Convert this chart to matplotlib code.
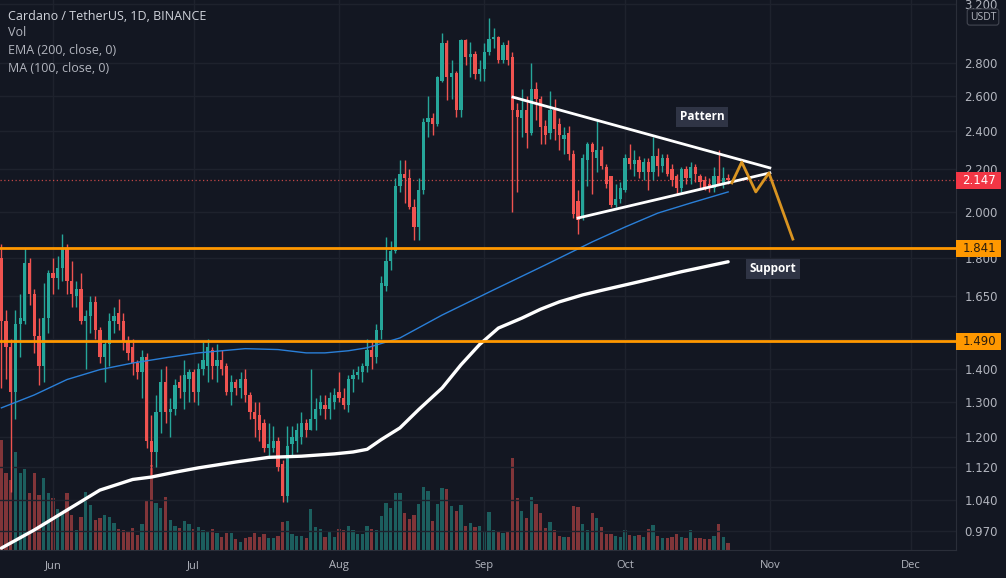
import matplotlib
matplotlib.use('Agg')
import matplotlib.pyplot as plt
import matplotlib.transforms as mtransforms
from matplotlib.patches import Rectangle
from matplotlib.ticker import FixedLocator, NullLocator, FuncFormatter
import numpy as np
import pandas as pd

plt.rcParams['font.family'] = ['Open Sans', 'DejaVu Sans']

# ---------------- data (ADA/USDT daily) ----------------
start_date = '2021-05-21'

opens = [1.80, 1.56, 1.47, 1.33, 1.55, 1.56, 1.78, 1.66, 1.51, 1.41,
         1.57, 1.74, 1.72, 1.76, 1.84, 1.71, 1.65, 1.68, 1.56, 1.58,
         1.63, 1.53, 1.44, 1.48, 1.56, 1.59, 1.56, 1.49, 1.47, 1.42,
         1.39, 1.44, 1.19, 1.16, 1.27, 1.36, 1.27, 1.28, 1.36, 1.33,
         1.37, 1.39, 1.33, 1.40, 1.41, 1.46, 1.41, 1.43, 1.41, 1.33,
         1.36, 1.34, 1.37, 1.32, 1.27, 1.26, 1.24, 1.17, 1.17, 1.19,
         1.13, 1.05, 1.18, 1.19, 1.20, 1.24, 1.22, 1.25, 1.28, 1.29,
         1.28, 1.30, 1.33, 1.31, 1.29, 1.37, 1.38, 1.39, 1.41, 1.46,
         1.44, 1.53, 1.69, 1.79, 1.83, 2.12, 2.18, 2.16, 2.02, 1.93,
         2.10, 2.45, 2.47, 2.44, 2.69, 2.93, 2.71, 2.74, 2.52, 2.95,
         2.84, 2.86, 2.73, 2.76, 2.87, 2.96, 2.97, 2.82, 2.92, 2.84,
         2.52, 2.47, 2.52, 2.39, 2.64, 2.58, 2.43, 2.39, 2.52, 2.44,
         2.36, 2.39, 2.28, 2.05, 1.97, 2.25, 2.33, 2.26, 2.30, 2.21,
         2.17, 2.03, 2.06, 2.10, 2.26, 2.23, 2.25, 2.19, 2.24, 2.19,
         2.27, 2.22, 2.26, 2.20, 2.17, 2.11, 2.20, 2.16, 2.21, 2.17,
         2.15, 2.13, 2.11, 2.17, 2.13, 2.16]

highs = [1.86, 1.60, 1.50, 1.60, 1.66, 1.84, 1.80, 1.68, 1.57, 1.70,
         1.75, 1.80, 1.81, 1.90, 1.86, 1.79, 1.71, 1.74, 1.60, 1.65,
         1.65, 1.54, 1.49, 1.59, 1.61, 1.64, 1.59, 1.51, 1.50, 1.43,
         1.46, 1.45, 1.26, 1.32, 1.40, 1.41, 1.31, 1.37, 1.38, 1.43,
         1.40, 1.40, 1.42, 1.49, 1.50, 1.47, 1.48, 1.46, 1.42, 1.38,
         1.37, 1.39, 1.40, 1.33, 1.30, 1.30, 1.25, 1.24, 1.23, 1.20,
         1.14, 1.23, 1.23, 1.24, 1.27, 1.25, 1.40, 1.31, 1.32, 1.32,
         1.33, 1.34, 1.39, 1.34, 1.38, 1.40, 1.41, 1.42, 1.50, 1.49,
         1.55, 1.73, 1.89, 1.87, 2.16, 2.25, 2.25, 2.20, 2.06, 2.16,
         2.47, 2.60, 2.50, 2.72, 3.00, 2.95, 2.82, 2.75, 2.96, 2.96,
         2.94, 2.88, 2.82, 2.93, 3.10, 3.03, 2.98, 2.94, 2.95, 2.87,
         2.56, 2.64, 2.60, 2.80, 2.68, 2.60, 2.46, 2.63, 2.58, 2.47,
         2.42, 2.43, 2.30, 2.10, 2.28, 2.34, 2.34, 2.46, 2.32, 2.23,
         2.17, 2.13, 2.14, 2.28, 2.33, 2.30, 2.27, 2.26, 2.26, 2.37,
         2.31, 2.28, 2.28, 2.23, 2.18, 2.21, 2.22, 2.24, 2.23, 2.18,
         2.17, 2.16, 2.21, 2.30, 2.21, 2.18]

lows = [1.34, 1.37, 1.06, 1.25, 1.44, 1.55, 1.62, 1.45, 1.35, 1.36,
        1.52, 1.66, 1.68, 1.71, 1.66, 1.61, 1.61, 1.55, 1.40, 1.52,
        1.50, 1.42, 1.36, 1.41, 1.52, 1.53, 1.46, 1.43, 1.38, 1.37,
        1.31, 1.17, 1.10, 1.12, 1.21, 1.24, 1.20, 1.26, 1.31, 1.28,
        1.30, 1.30, 1.29, 1.38, 1.36, 1.37, 1.36, 1.38, 1.32, 1.29,
        1.32, 1.31, 1.30, 1.25, 1.20, 1.19, 1.16, 1.15, 1.16, 1.11,
        1.035, 1.035, 1.15, 1.16, 1.18, 1.20, 1.22, 1.22, 1.26, 1.25,
        1.25, 1.28, 1.30, 1.28, 1.27, 1.33, 1.37, 1.36, 1.39, 1.40,
        1.42, 1.50, 1.67, 1.75, 1.82, 2.09, 2.04, 2.01, 1.875, 1.875,
        2.08, 2.37, 2.38, 2.43, 2.68, 2.575, 2.58, 2.48, 2.48, 2.79,
        2.71, 2.70, 2.69, 2.69, 2.85, 2.90, 2.80, 2.80, 2.79, 2.00,
        2.09, 2.37, 2.31, 2.38, 2.46, 2.33, 2.33, 2.36, 2.35, 2.30,
        2.28, 2.25, 1.97, 1.90, 1.96, 2.12, 2.08, 2.19, 2.20, 2.11,
        2.02, 2.02, 2.04, 2.09, 2.20, 2.17, 2.16, 2.15, 2.10, 2.15,
        2.17, 2.19, 2.17, 2.12, 2.08, 2.09, 2.13, 2.13, 2.14, 2.11,
        2.10, 2.09, 2.09, 2.13, 2.11, 2.13]

closes = [1.56, 1.47, 1.33, 1.55, 1.57, 1.78, 1.66, 1.51, 1.41, 1.57,
          1.74, 1.72, 1.76, 1.84, 1.71, 1.66, 1.68, 1.56, 1.58, 1.63,
          1.53, 1.44, 1.48, 1.56, 1.58, 1.55, 1.49, 1.45, 1.42, 1.39,
          1.44, 1.19, 1.16, 1.27, 1.36, 1.27, 1.28, 1.35, 1.34, 1.38,
          1.39, 1.33, 1.40, 1.43, 1.47, 1.41, 1.43, 1.40, 1.33, 1.36,
          1.34, 1.37, 1.32, 1.27, 1.25, 1.22, 1.17, 1.18, 1.19, 1.12,
          1.05, 1.175, 1.20, 1.22, 1.24, 1.22, 1.25, 1.28, 1.30, 1.28,
          1.31, 1.32, 1.31, 1.29, 1.37, 1.38, 1.39, 1.41, 1.46, 1.44,
          1.53, 1.70, 1.79, 1.83, 2.12, 2.18, 2.16, 2.02, 1.93, 2.10,
          2.45, 2.47, 2.44, 2.71, 2.93, 2.71, 2.74, 2.52, 2.95, 2.84,
          2.86, 2.73, 2.76, 2.87, 2.96, 2.97, 2.82, 2.92, 2.82, 2.52,
          2.48, 2.52, 2.39, 2.64, 2.58, 2.42, 2.38, 2.52, 2.41, 2.38,
          2.38, 2.28, 1.99, 1.96, 2.26, 2.33, 2.29, 2.30, 2.22, 2.13,
          2.03, 2.06, 2.11, 2.26, 2.23, 2.25, 2.19, 2.24, 2.19, 2.27,
          2.22, 2.26, 2.18, 2.15, 2.11, 2.20, 2.16, 2.21, 2.18, 2.14,
          2.11, 2.11, 2.17, 2.13, 2.16, 2.147]

volumes = [110, 77, 70, 98, 77, 81, 57, 77, 55, 72,
           57, 52, 41, 38, 57, 35, 20, 33, 58, 45,
           30, 32, 35, 33, 27, 21, 20, 18, 22, 15,
           26, 49, 85, 47, 42, 53, 30, 24, 22, 29,
           26, 21, 23, 20, 19, 21, 17, 13, 17, 17,
           11, 8, 12, 13, 17, 13, 16, 12, 12, 14,
           28, 29, 16, 14, 14, 12, 41, 23, 21, 13,
           18, 13, 21, 20, 24, 20, 16, 16, 24, 21,
           20, 34, 47, 42, 57, 57, 37, 31, 35, 46,
           63, 59, 29, 46, 62, 61, 44, 39, 45, 24,
           27, 23, 24, 19, 38, 20, 19, 17, 19, 92,
           52, 39, 32, 53, 46, 37, 22, 28, 20, 14,
           13, 13, 44, 43, 26, 20, 37, 32, 23, 16,
           16, 14, 13, 20, 15, 14, 15, 13, 21, 25,
           14, 12, 12, 13, 16, 13, 12, 20, 12, 12,
           11, 11, 14, 26, 13, 7]

# EMA 200 (white) and MA 100 (blue), read at sample days
ema_days = [0, 7, 14, 21, 28, 32, 37, 42, 50, 57, 64, 71, 75, 78, 81, 85,
            89, 94, 98, 102, 106, 111, 115, 119, 124, 128, 136, 145, 155]
ema_vals = [0.933, 0.972, 1.017, 1.064, 1.090, 1.096, 1.108, 1.119, 1.134,
            1.146, 1.149, 1.155, 1.160, 1.167, 1.193, 1.225, 1.277, 1.341,
            1.413, 1.480, 1.536, 1.571, 1.603, 1.630, 1.656, 1.673, 1.706,
            1.745, 1.785]
ma_days = [0, 7, 14, 21, 28, 35, 42, 52, 59, 65, 69, 74, 78, 85, 94, 105,
           116, 126, 133, 140, 147, 155]
ma_vals = [1.282, 1.320, 1.367, 1.398, 1.419, 1.436, 1.452, 1.466, 1.463,
           1.452, 1.452, 1.459, 1.469, 1.502, 1.582, 1.675, 1.772, 1.867,
           1.931, 1.993, 2.039, 2.091]

# drawn pattern (triangle) and projection
upper_days = [109.1, 163.9]
upper_vals = [2.592, 2.208]
lower_days = [123.0, 163.9]
lower_vals = [1.971, 2.183]
proj_days = [155.8, 157.9, 160.9, 163.7, 168.8]
proj_vals = [2.134, 2.237, 2.091, 2.183, 1.879]

level_vals = [1.841, 1.490]
last_price = 2.147

price_ticks = [0.970, 1.040, 1.120, 1.200, 1.300, 1.400, 1.500, 1.650,
               1.800, 2.000, 2.200, 2.400, 2.600, 2.800, 3.200]
hidden_tick_labels = [1.500]   # fully covered by the 1.490 label on the scale
month_labels = ['Jun', 'Jul', 'Aug', 'Sep', 'Oct', 'Nov', 'Dec']
month_dates = ['2021-06-01', '2021-07-01', '2021-08-01', '2021-09-01',
               '2021-10-01', '2021-11-01', '2021-12-01']

# ---------------- styling ----------------
BG = '#131722'
GRID = '#1e222d'
UP = '#26a69a'
DOWN = '#ef5350'
TXT = '#b2b5be'
NARROW = ['Liberation Sans Narrow', 'DejaVu Sans']

n = len(closes)
days = np.arange(n)
o = np.array(opens); h = np.array(highs); l = np.array(lows); c = np.array(closes)
up = c >= o
cols = np.where(up, UP, DOWN)

fig = plt.figure(figsize=(10.06, 5.78), dpi=100, facecolor=BG)
ax = fig.add_axes([0, 28 / 578, 956 / 1006, 550 / 578])
ax2 = ax.twinx()
ax2.set_zorder(1)
ax.set_zorder(2)
ax.patch.set_visible(False)
ax2.patch.set_facecolor(BG)

# volume
ax2.bar(days, volumes, width=0.7, color=np.where(up, UP, DOWN), alpha=0.5,
        linewidth=0)
ax2.set_ylim(0, 550)
ax2.set_yticks([])
for s in ax2.spines.values():
    s.set_visible(False)

# price axis
ax.set_yscale('log')
ax.set_ylim(0.929, 3.23)
ax.set_xlim(-0.3, 203.6)
ax.yaxis.tick_right()
ax.yaxis.set_major_locator(FixedLocator(price_ticks))
ax.yaxis.set_minor_locator(NullLocator())
ax.yaxis.set_major_formatter(FuncFormatter(
    lambda v, p: '' if any(abs(v - t) < 1e-9 for t in hidden_tick_labels)
    else f'{v:.3f}'))
ax.tick_params(axis='y', length=0, pad=6, labelsize=8.5, labelcolor=TXT)

start = pd.Timestamp(start_date)
month_pos = [(pd.Timestamp(d) - start).days for d in month_dates]
ax.set_xticks(month_pos)
ax.set_xticklabels(month_labels)
ax.tick_params(axis='x', length=0, pad=7, labelsize=8, labelcolor=TXT)
for lab in ax.get_yticklabels():
    lab.set_family(NARROW)

ax.grid(True, color=GRID, lw=1)
ax.set_axisbelow(True)
for k in ['top', 'left']:
    ax.spines[k].set_visible(False)
for k in ['right', 'bottom']:
    ax.spines[k].set_color('#2a2e39')

# candles
ax.vlines(days, l, h, colors=cols, lw=1, zorder=3)
body_lo = np.minimum(o, c)
body_hi = np.maximum(np.maximum(o, c), body_lo * 1.004)
ax.bar(days, body_hi - body_lo, bottom=body_lo, width=0.7, color=cols,
       linewidth=0, zorder=3.1)

# moving averages
ax.plot(ma_days, ma_vals, color='#2a7fd8', lw=1, zorder=3.2)
ax.plot(ema_days, ema_vals, color='white', lw=2.4, zorder=3.3,
        solid_capstyle='round', solid_joinstyle='round')

# horizontal levels
for v in level_vals:
    ax.axhline(v, color='#ff9800', lw=2, zorder=4)
ax.axhline(last_price, color=DOWN, lw=0.9, ls=(0, (1, 2)), alpha=0.8, zorder=2)

# pattern
ax.plot(upper_days, upper_vals, color='white', lw=2, zorder=5)
ax.plot(lower_days, lower_vals, color='white', lw=2, zorder=5)
ax.plot(proj_days, proj_vals, color='#d99421', lw=2, zorder=5)

ax.text(149.4, 2.478, 'Pattern', ha='center', va='center', color='white',
        fontsize=8.5, fontweight='bold', zorder=6,
        bbox=dict(boxstyle='square,pad=0.3', fc='#2f3445', ec='none'))
ax.text(164.6, 1.756, 'Support', ha='center', va='center', color='white',
        fontsize=8.5, fontweight='bold', zorder=6,
        bbox=dict(boxstyle='square,pad=0.3', fc='#2f3445', ec='none'))

# price labels on the scale
blend = mtransforms.blended_transform_factory(fig.transFigure, ax.transData)
half = np.exp(8.5 / 441.5)
for v, fc, tc in [(level_vals[0], '#ff9800', '#2b1d0e'),
                  (level_vals[1], '#ff9800', '#2b1d0e'),
                  (last_price, '#f23645', 'white')]:
    r = Rectangle((956 / 1006, v / half), 45 / 1006, v * half - v / half,
                  transform=blend, fc=fc, ec='none', clip_on=False, zorder=10)
    ax.add_patch(r)
    ax.text(979 / 1006, v, f'{v:.3f}', transform=blend, ha='center',
            va='center', color=tc, fontsize=8.5, clip_on=False, zorder=11,
            family=NARROW)

fig.text(983 / 1006, 1 - 17 / 578, 'USDT', ha='center', va='center',
         color=TXT, fontsize=7.5,
         bbox=dict(boxstyle='round,pad=0.25', fc=BG, ec='#434651', lw=0.8))

# header legend
legend_lines = ['Cardano / TetherUS, 1D, BINANCE', 'Vol',
                'EMA (200, close, 0)', 'MA (100, close, 0)']
for k, (txt, yy) in enumerate(zip(legend_lines, [16, 33, 51, 68])):
    fig.text(8 / 1006, 1 - yy / 578, txt, ha='left', va='center',
             color='#d1d4dc' if k == 0 else TXT, fontsize=9)

fig.savefig('out.png', dpi=100, facecolor=BG)
